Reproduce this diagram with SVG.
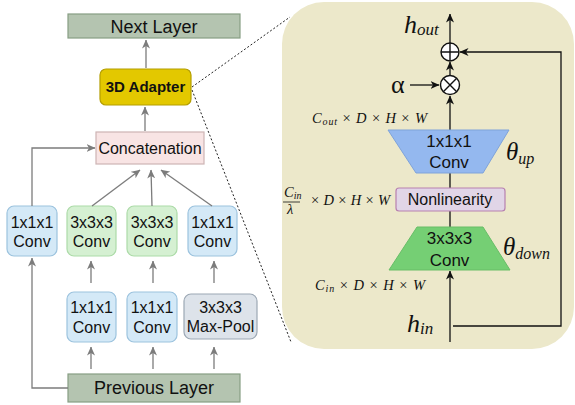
<svg xmlns="http://www.w3.org/2000/svg" width="575" height="405" viewBox="0 0 575 405">
<defs>
<style>
.t{font-family:"Liberation Sans",Arial,sans-serif;fill:#111;text-anchor:middle}
.m{font-family:"Liberation Serif","Times New Roman",serif;fill:#111}
.g{stroke:#7c7c7c;stroke-width:1.3;fill:none}
.k{stroke:#111;stroke-width:1.3;fill:none}
.blue{fill:#d4e9f7;stroke:#9cc3de;stroke-width:1.2}
.green{fill:#d5f0d2;stroke:#acdba8;stroke-width:1.2}
.lay{fill:#b4c4b0;stroke:#879e84;stroke-width:1.2}
</style>
<marker id="ag" viewBox="0 0 9 8" refX="8.5" refY="4" markerWidth="9" markerHeight="8" markerUnits="userSpaceOnUse" orient="auto"><path d="M0,0 L9,4 L0,8 L2.5,4 Z" fill="#7c7c7c"/></marker>
<marker id="ak" viewBox="0 0 9 8" refX="8.5" refY="4" markerWidth="9" markerHeight="8" markerUnits="userSpaceOnUse" orient="auto"><path d="M0,0 L9,4 L0,8 L2.5,4 Z" fill="#111"/></marker>
</defs>

<g id="panel">
<rect x="282" y="2" width="292" height="347" rx="42" fill="#ece8ca"/>
</g>

<g id="zoom-lines" stroke="#222" stroke-width="1" stroke-dasharray="2,2" fill="none">
<line x1="192" y1="87" x2="290" y2="17"/>
<line x1="192" y1="90" x2="291" y2="342"/>
</g>

<g id="next-layer"><rect class="lay" x="68" y="14" width="172" height="24"/><text class="t" x="154" y="33" font-size="18">Next Layer</text></g>
<g id="adapter"><rect x="100" y="69" width="91" height="36" rx="6" fill="#e3c800" stroke="#b49e00" stroke-width="1.2"/><text class="t" x="145.5" y="92" font-size="15" font-weight="bold" fill="#000">3D Adapter</text></g>
<g id="concat"><rect x="96" y="132" width="108" height="32" fill="#f8e4e4" stroke="#cdb4b4" stroke-width="1.2"/><text class="t" x="150" y="154" font-size="16">Concatenation</text></g>

<g id="conv-a"><rect class="blue" x="7" y="206" width="50" height="50" rx="7"/><text class="t" x="32" y="228" font-size="16">1x1x1</text><text class="t" x="32" y="247" font-size="16">Conv</text></g>
<g id="conv-b"><rect class="green" x="67" y="206" width="49" height="50" rx="7"/><text class="t" x="91.5" y="228" font-size="16">3x3x3</text><text class="t" x="91.5" y="247" font-size="16">Conv</text></g>
<g id="conv-c"><rect class="green" x="127" y="206" width="50" height="50" rx="7"/><text class="t" x="152" y="228" font-size="16">3x3x3</text><text class="t" x="152" y="247" font-size="16">Conv</text></g>
<g id="conv-d"><rect class="blue" x="188" y="206" width="49" height="50" rx="7"/><text class="t" x="212.5" y="228" font-size="16">1x1x1</text><text class="t" x="212.5" y="247" font-size="16">Conv</text></g>

<g id="conv-e"><rect class="blue" x="67" y="292" width="49" height="50" rx="7"/><text class="t" x="91.5" y="313" font-size="16">1x1x1</text><text class="t" x="91.5" y="333" font-size="16">Conv</text></g>
<g id="conv-f"><rect class="blue" x="127" y="292" width="50" height="50" rx="7"/><text class="t" x="152" y="313" font-size="16">1x1x1</text><text class="t" x="152" y="333" font-size="16">Conv</text></g>
<g id="maxpool"><rect x="184" y="294" width="73" height="45" rx="7" fill="#dde3ea" stroke="#9ca8b4" stroke-width="1.2"/><text class="t" x="220.5" y="313" font-size="16">3x3x3</text><text class="t" x="220.5" y="332" font-size="16">Max-Pool</text></g>

<g id="prev-layer"><rect class="lay" x="68" y="374" width="172" height="28"/><text class="t" x="154" y="394" font-size="18">Previous Layer</text></g>

<g id="connectors-left" class="g">
<line class="g" x1="146" y1="68" x2="146" y2="40" marker-end="url(#ag)"/>
<line class="g" x1="145" y1="131" x2="145" y2="107" marker-end="url(#ag)"/>
<line class="g" x1="92" y1="206" x2="140" y2="170" marker-end="url(#ag)"/>
<line class="g" x1="152" y1="206" x2="151" y2="170" marker-end="url(#ag)"/>
<line class="g" x1="212" y1="206" x2="161" y2="170" marker-end="url(#ag)"/>
<polyline class="g" points="32,206 32,148 95,148" marker-end="url(#ag)"/>
<polyline class="g" points="68,388 32,388 32,258" marker-end="url(#ag)"/>
<line class="g" x1="91" y1="283" x2="91" y2="261" marker-end="url(#ag)"/>
<line class="g" x1="153" y1="283" x2="153" y2="261" marker-end="url(#ag)"/>
<line class="g" x1="214" y1="283" x2="214" y2="261" marker-end="url(#ag)"/>
<line class="g" x1="91" y1="369" x2="91" y2="347" marker-end="url(#ag)"/>
<line class="g" x1="153" y1="369" x2="153" y2="347" marker-end="url(#ag)"/>
<line class="g" x1="214" y1="369" x2="214" y2="347" marker-end="url(#ag)"/>
</g>

<g id="connectors-right">
<line class="k" x1="450" y1="342" x2="450" y2="271" marker-end="url(#ak)"/>
<line class="k" x1="450" y1="211" x2="450" y2="227"/>
<line class="k" x1="450" y1="173" x2="450" y2="188"/>
<line class="k" x1="450" y1="130" x2="450" y2="96" marker-end="url(#ak)"/>
<line class="k" x1="410" y1="85" x2="439" y2="85" marker-end="url(#ak)"/>
<line class="k" x1="450" y1="76" x2="450" y2="62" marker-end="url(#ak)"/>
<line class="k" x1="450" y1="43" x2="450" y2="14" marker-end="url(#ak)"/>
<polyline class="k" points="453,326 561,326 561,52 460,52" marker-end="url(#ak)"/>
</g>

<g id="conv-up">
<polygon points="388,130 509,130 483,173 416,173" fill="#94b8ef" stroke="#7fa3da" stroke-width="1"/>
<text class="t" x="449" y="147" font-size="17">1x1x1</text><text class="t" x="449" y="168" font-size="17">Conv</text>
</g>
<g id="nonlinearity"><rect x="396" y="188" width="109" height="23" rx="3" fill="#e1d5e7" stroke="#b780b0" stroke-width="1.2"/><text class="t" x="450" y="205" font-size="16">Nonlinearity</text></g>
<g id="conv-down">
<polygon points="417,227 483,227 510,270 389,270" fill="#75cf74" stroke="#68bd67" stroke-width="1"/>
<text class="t" x="449.5" y="244" font-size="17">3x3x3</text><text class="t" x="449.5" y="266" font-size="17">Conv</text>
</g>

<g id="mult"><circle cx="450" cy="85" r="9.5" fill="#fff" stroke="#111" stroke-width="1.4"/><path d="M443.3,78.3 L456.7,91.7 M456.7,78.3 L443.3,91.7" stroke="#111" stroke-width="1.4"/></g>
<g id="add"><circle cx="450" cy="52" r="9" fill="#fff" stroke="#111" stroke-width="1.4"/><path d="M441,52 L459,52 M450,43 L450,61" stroke="#111" stroke-width="1.4"/></g>

<g id="labels">
<text class="m" x="404" y="33" font-size="26" font-style="italic">h<tspan font-size="17" dy="2">out</tspan></text>
<text class="m" x="391" y="93" font-size="26">α</text>
<text class="m" x="407" y="332" font-size="26" font-style="italic">h<tspan font-size="17" dy="2">in</tspan></text>
<text class="m" x="506" y="160" font-size="25" font-style="italic">θ<tspan font-size="16" dy="4">up</tspan></text>
<text class="m" x="503" y="255" font-size="25" font-style="italic">θ<tspan font-size="16" dy="4">down</tspan></text>
<text class="m" x="312" y="123" font-size="14.5" textLength="115" lengthAdjust="spacing"><tspan font-style="italic">C</tspan><tspan font-style="italic" font-size="10" dy="2">out</tspan><tspan dy="-2"> × </tspan><tspan font-style="italic">D</tspan> × <tspan font-style="italic">H</tspan> × <tspan font-style="italic">W</tspan></text>
<text class="m" x="284" y="197" font-size="14.5"><tspan font-style="italic">C</tspan><tspan font-style="italic" font-size="10" dy="2">in</tspan></text>
<line x1="283" y1="202" x2="300" y2="202" stroke="#111" stroke-width="0.8"/>
<text class="m" x="287" y="214" font-size="14.5" font-style="italic">λ</text>
<text class="m" x="311" y="205" font-size="14.5" textLength="79" lengthAdjust="spacing">× <tspan font-style="italic">D</tspan> × <tspan font-style="italic">H</tspan> × <tspan font-style="italic">W</tspan></text>
<text class="m" x="315" y="290" font-size="14.5" textLength="110" lengthAdjust="spacing"><tspan font-style="italic">C</tspan><tspan font-style="italic" font-size="10" dy="2">in</tspan><tspan dy="-2"> × </tspan><tspan font-style="italic">D</tspan> × <tspan font-style="italic">H</tspan> × <tspan font-style="italic">W</tspan></text>
</g>
</svg>
